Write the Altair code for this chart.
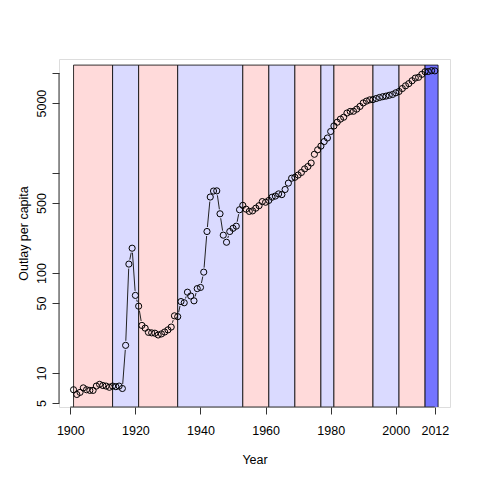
import math
import altair as alt
import pandas as pd

# ---- data ----
years = list(range(1901, 2013))
outlay = [6.8, 6.1, 6.4, 7.1, 6.8, 6.7, 6.7, 7.4, 7.7, 7.5, 7.4, 7.2, 7.4, 7.3, 7.4, 7.0,
          18.9, 122.8, 177, 59.7,
          46.6, 29.9, 28.1, 25.5, 25.2, 25.0, 24.0, 24.6, 25.7, 27.0,
          28.8, 37.3, 36.6, 51.8, 50.4, 64.3, 58.9, 52.7, 69.8, 71.7,
          102, 260, 575, 660, 663, 391, 239, 203, 260, 280,
          294, 429, 475, 435, 413, 418, 445, 471, 518, 510,
          532, 573, 588, 618, 608, 684, 792, 887, 906, 954,
          1012, 1099, 1160, 1259, 1539, 1705, 1858, 2061, 2239, 2601,
          2955, 3219, 3458, 3612, 3977, 4125, 4144, 4353, 4634, 5020,
          5234, 5386, 5423, 5556, 5692, 5793, 5873, 5989, 6100, 6339,
          6536, 6992, 7445, 7831, 8365, 8898, 9059, 9700, 10300, 10350,
          10550, 10500]

band_start = [1901, 1913, 1921, 1933, 1953, 1961, 1969, 1977, 1981, 1993, 2001, 2009]
band_end = [1913, 1921, 1933, 1953, 1961, 1969, 1977, 1981, 1993, 2001, 2009, 2013]
band_party = ["R", "D", "R", "D", "R", "D", "R", "D", "R", "D", "R", "Dnow"]
band_bottom = 1
band_top = 12000

x_ticks = [1900, 1920, 1940, 1960, 1980, 2000, 2012]
y_ticks = [5, 10, 50, 100, 500, 1000, 5000, 10000]

# ---- geometry ----
W, H = 391, 348
XMIN, XMAX = 1896.53, 2016.66
LY0, LY1 = 0.66, 4.14
YMIN, YMAX = 10 ** LY0, 10 ** LY1

pts = pd.DataFrame({"year": years, "outlay": outlay})
bands = pd.DataFrame({"start": band_start, "end": band_end, "party": band_party,
                      "bottom": band_bottom, "top": band_top})

# segments between points with gaps (R type="b")
ppy = W / (XMAX - XMIN)
ppd = H / (LY1 - LY0)
gap = 4.5
seg = []
for i in range(len(years) - 1):
    ax, ay = years[i] * ppy, math.log10(outlay[i]) * ppd
    bx, by = years[i + 1] * ppy, math.log10(outlay[i + 1]) * ppd
    dx, dy = bx - ax, by - ay
    L = math.hypot(dx, dy)
    if L > 2 * gap:
        sx, sy = ax + dx * gap / L, ay + dy * gap / L
        ex, ey = bx - dx * gap / L, by - dy * gap / L
        seg.append({"x": sx / ppy, "y": 10 ** (sy / ppd),
                    "x2": ex / ppy, "y2": 10 ** (ey / ppd)})
segs = pd.DataFrame(seg)

FONT = "Liberation Sans"
xs = alt.Scale(domain=[XMIN, XMAX], nice=False, zero=False)
ys = alt.Scale(type="log", domain=[YMIN, YMAX], nice=False)

xaxis = alt.Axis(values=x_ticks, format="d", domain=False, grid=False, tickSize=7,
                 tickColor="#333", labelPadding=10, labelFont=FONT, labelFontSize=12.5,
                 labelColor="#000", title="Year", titleFont=FONT, titleFontSize=12.5,
                 titleFontWeight="normal", titleColor="#000", titleX=W / 2, titleY=52,
                 titleBaseline="middle", labelOverlap=False, labelFlush=False)
yaxis = alt.Axis(values=y_ticks, domain=False, grid=False, tickSize=7, tickColor="#333",
                 labelExpr="(datum.value == 1000 || datum.value == 10000) ? '' : format(datum.value, 'd')",
                 labelAngle=270, labelAlign="center", labelBaseline="bottom", labelPadding=4,
                 labelFont=FONT, labelFontSize=12.5, labelColor="#000", labelOverlap=False,
                 title="Outlay per capita", titleFont=FONT, titleFontSize=12.5,
                 titleFontWeight="normal", titleColor="#000", titleAngle=270,
                 titleX=-36, titleY=H / 2, titleAlign="center", titleBaseline="middle")

rects = alt.Chart(bands).mark_rect(clip=True, stroke="#000", strokeWidth=0.8).encode(
    x=alt.X("start:Q", scale=xs, axis=xaxis),
    x2="end:Q",
    y=alt.Y("bottom:Q", scale=ys, axis=yaxis),
    y2="top:Q",
    color=alt.Color("party:N", scale=alt.Scale(domain=["R", "D", "Dnow"],
                    range=["#FFDADA", "#DADAFF", "#7474FF"]), legend=None),
)

lines = alt.Chart(segs).mark_rule(stroke="#222", strokeWidth=1).encode(
    x=alt.X("x:Q", scale=xs, axis=xaxis), x2="x2:Q",
    y=alt.Y("y:Q", scale=ys, axis=yaxis), y2="y2:Q",
)

points = alt.Chart(pts).mark_point(shape="circle", filled=False, size=38,
                                   stroke="#000", strokeWidth=1, opacity=1).encode(
    x=alt.X("year:Q", scale=xs, axis=xaxis),
    y=alt.Y("outlay:Q", scale=ys, axis=yaxis),
)

xline = alt.Chart(pd.DataFrame({"a": [x_ticks[0]], "b": [x_ticks[-1]], "y": [YMIN]})).mark_rule(
    stroke="#333", strokeWidth=1, clip=False).encode(
    x=alt.X("a:Q", scale=xs, axis=xaxis), x2="b:Q",
    y=alt.Y("y:Q", scale=ys, axis=yaxis),
)
yline = alt.Chart(pd.DataFrame({"x": [XMIN], "a": [y_ticks[0]], "b": [y_ticks[-1]]})).mark_rule(
    stroke="#333", strokeWidth=1, clip=False).encode(
    x=alt.X("x:Q", scale=xs, axis=xaxis),
    y=alt.Y("a:Q", scale=ys, axis=yaxis), y2="b:Q",
)

chart = alt.layer(rects, lines, points, xline, yline).properties(
    width=W, height=H,
    autosize=alt.AutoSizeParams(type="none"),
    padding={"left": 59, "top": 59, "right": 30, "bottom": 73},
).configure_view(stroke=None).configure(background="white")

chart.save("out.html", embed_options={"renderer": "svg", "actions": False})
